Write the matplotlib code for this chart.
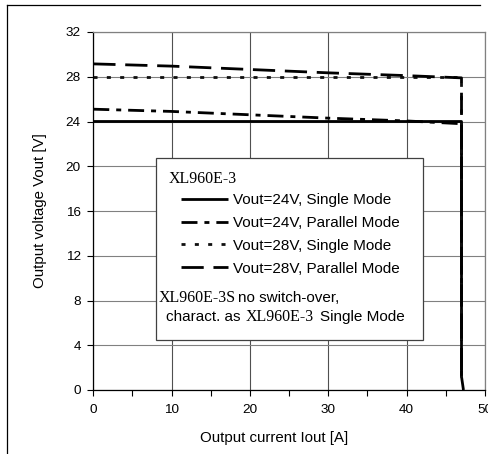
import matplotlib
matplotlib.use("Agg")
import matplotlib.pyplot as plt
from matplotlib.lines import Line2D
from matplotlib.patches import Rectangle

# data (current in A, voltage in V)
i_24s = [0, 10, 20, 30, 40, 47.0, 47.0, 47.25]
v_24s = [24.0, 24.0, 24.0, 24.0, 24.0, 24.0, 1.2, 0.0]

i_24p = [0, 10, 20, 25, 30, 40, 47.0, 47.0]
v_24p = [25.1, 24.9, 24.6, 24.45, 24.3, 24.05, 23.8, 1.2]

i_28s = [0, 10, 20, 30, 40, 47.0, 47.0]
v_28s = [28.0, 28.0, 28.0, 28.0, 28.0, 28.0, 1.2]

i_28p = [0, 10, 20, 30, 40, 47.0, 47.0]
v_28p = [29.15, 28.95, 28.65, 28.35, 28.1, 27.9, 1.2]

labels = ["Vout=24V, Single Mode", "Vout=24V, Parallel Mode",
          "Vout=28V, Single Mode", "Vout=28V, Parallel Mode"]

x_ticks = [0, 10, 20, 30, 40, 50]
y_ticks = [0, 4, 8, 12, 16, 20, 24, 28, 32]

W, H = 489, 454
plt.rcParams['font.family'] = ['Liberation Sans', 'DejaVu Sans']
plt.rcParams['lines.scale_dashes'] = False
serif = ['Liberation Serif', 'DejaVu Serif']


def fx(px):
    return px / W


def fy(py):
    return 1 - py / H


fig = plt.figure(figsize=(W / 100, H / 100), dpi=100)
fig.patch.set_facecolor('white')
ax = fig.add_axes([fx(93.3), fy(390), fx(485) - fx(93.3), fy(32) - fy(390)])

lw = 2.0
styles = [
    dict(linestyle='-'),
    dict(linestyle=(0, (11.5, 5, 3.6, 5))),
    dict(linestyle=(0, (2.9, 6.7)), color='#101010'),
    dict(linestyle=(0, (16, 7))),
]
series = [(i_24s, v_24s), (i_24p, v_24p), (i_28s, v_28s), (i_28p, v_28p)]
handles = []
for (xs, ys), st, lab in zip(series, styles, labels):
    kw = dict(color='black', linewidth=lw, solid_capstyle='butt', dash_capstyle='butt')
    kw.update(st)
    h, = ax.plot(xs, ys, label=lab, **kw)
    handles.append(h)

ax.set_xlim(0, 50)
ax.set_ylim(0, 32)
ax.set_xticks(x_ticks)
ax.set_xticks([5, 15, 25, 35, 45], minor=True)
ax.set_yticks(y_ticks)
ax.tick_params(axis='both', which='both', direction='out', length=4,
               width=0.8, labelsize=9.7, colors='black')
ax.tick_params(axis='x', pad=6)
ax.tick_params(axis='y', pad=5)
ax.grid(True, axis='x', color='#505050', linewidth=0.8)
ax.grid(True, axis='y', color='#808080', linewidth=0.8)
ax.set_axisbelow(True)
for side in ['top', 'right']:
    ax.spines[side].set_color('#808080')
    ax.spines[side].set_linewidth(0.9)
for side in ['left', 'bottom']:
    ax.spines[side].set_color('black')
    ax.spines[side].set_linewidth(0.9)

fig.text(fx(274), fy(438), 'Output current Iout [A]', fontsize=10.8,
         ha='center', va='center')
fig.text(fx(40), fy(211), 'Output voltage Vout [V]', fontsize=10.8,
         ha='center', va='center', rotation=90)

# legend box (drawn inside the axes so that the legend sits on top of it)
box = Rectangle((fx(156), fy(340)), fx(423) - fx(156), fy(158) - fy(340),
                transform=fig.transFigure, facecolor='white',
                edgecolor='#404040', linewidth=0.9, zorder=5, clip_on=False)
ax.add_patch(box)
leg = ax.legend(handles=handles, loc='upper left',
                bbox_to_anchor=(fx(181), fy(193)), bbox_transform=fig.transFigure,
                frameon=False, fontsize=11, handlelength=3.1, handletextpad=0.3,
                labelspacing=0.58, borderpad=0, borderaxespad=0)
leg.set_zorder(7)
fig.text(fx(169), fy(179), 'XL960E-3', family=serif, fontsize=11.5,
         ha='left', va='center')
fig.text(fx(159), fy(298), 'XL960E-3S', family=serif, fontsize=11.5,
         ha='left', va='center')
fig.text(fx(238), fy(298), 'no switch-over,', fontsize=11,
         ha='left', va='center')
fig.text(fx(166), fy(317), 'charact. as', fontsize=11,
         ha='left', va='center')
fig.text(fx(246), fy(317), 'XL960E-3', family=serif, fontsize=11.5,
         ha='left', va='center')
fig.text(fx(320), fy(317), 'Single Mode', fontsize=11,
         ha='left', va='center')

# outer frame (top and left edges of the original chart area)
fig.add_artist(Line2D([fx(7), fx(480)], [fy(5), fy(5)], color='black', linewidth=0.9))
fig.add_artist(Line2D([fx(7), fx(7)], [fy(5), fy(454)], color='black', linewidth=0.9))

fig.savefig('out.png', dpi=100)
